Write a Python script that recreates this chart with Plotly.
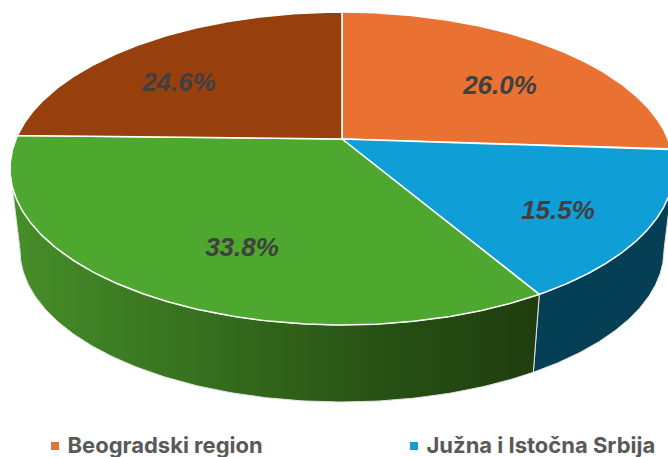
import numpy as np
import plotly.graph_objects as go

# --- data ---
categories = ["Beogradski region", "Južna i Istočna Srbija", "Vojvodina", "Šumadija i Zapadna Srbija"]
shares = [26.0, 15.5, 33.8, 24.6]
top_colors = ["#E97132", "#0F9ED5", "#4EA72E", "#983F0E"]
legend_labels = ["Beogradski region", "Južna i Istočna Srbija"]

# --- projection of the tilted disc onto the page (pixels) ---
W, H = 668, 457
CX, CY = 342.0, 139.0
RX, RY, PERSP = 326.0, 150.9, 0.1885
DEPTH, SHRINK = 82.6, 0.97


def rim(theta):
    u, v = np.sin(theta), np.cos(theta)
    d = 1 + PERSP * v
    return CX + RX * u / d, CY - RY * v / d


def lower(x, y):
    return CX + SHRINK * (x - CX), CY + DEPTH + SHRINK * (y - CY)


cum = np.concatenate([[0], np.cumsum(shares)]) / sum(shares) * 2 * np.pi
tangent = 2 * np.pi - np.arccos(-PERSP)   # left silhouette of the disc
tangent_r = np.arccos(-PERSP)             # right silhouette of the disc

fig = go.Figure()

# side walls, only where the front of the cylinder shows
wall_styles = {
    1: dict(fillcolor="#053F55"),
    2: dict(fillgradient=dict(type="horizontal",
                              colorscale=[[0, "#468F29"], [0.35, "#37701F"], [0.75, "#264D13"], [1, "#213D0E"]])),
}
for i, style in wall_styles.items():
    a = max(cum[i], tangent_r)
    b = min(cum[i + 1], tangent)
    t = np.linspace(a, b, 160)
    x, y = rim(t)
    xb, yb = lower(x, y)
    fig.add_trace(go.Scatter(
        x=np.concatenate([x, xb[::-1], x[:1]]), y=np.concatenate([y, yb[::-1], y[:1]]),
        mode="lines", fill="toself", line=dict(color="#E4E4E4", width=1),
        hoverinfo="skip", showlegend=False, **style))

# top face of each slice
for i, (cat, share, col) in enumerate(zip(categories, shares, top_colors)):
    t = np.linspace(cum[i], cum[i + 1], 200)
    x, y = rim(t)
    fig.add_trace(go.Scatter(
        x=np.concatenate([[CX], x, [CX]]), y=np.concatenate([[CY], y, [CY]]),
        mode="lines", fill="toself", fillcolor=col, line=dict(color="white", width=1.5),
        name=cat, text=f"{cat}: {share:.1f}%", hoverinfo="text", showlegend=False))

# value labels
label_xy = [(500, 87), (558, 212), (242, 249), (179, 84)]
fig.add_trace(go.Scatter(
    x=[p[0] for p in label_xy], y=[p[1] for p in label_xy],
    text=[f"{s:.1f}%" for s in shares], mode="text", textposition="middle center",
    textfont=dict(family="Liberation Sans", size=26, color="#404040", weight="bold", style="italic"),
    hoverinfo="skip", showlegend=False))

# legend entries still visible in the crop
legend_xy = [(55, 446), (414, 446)]
for label, col, (lx, ly) in zip(legend_labels, top_colors, legend_xy):
    fig.add_trace(go.Scatter(
        x=[lx], y=[ly], mode="markers", marker=dict(symbol="square", size=8, color=col),
        hoverinfo="skip", showlegend=False))
    fig.add_trace(go.Scatter(
        x=[lx + 12.5], y=[ly + 1], mode="text", text=[label], textposition="middle right",
        textfont=dict(family="Inter", size=22, color="#595959", weight="bold"),
        hoverinfo="skip", showlegend=False, cliponaxis=False))

fig.update_layout(
    width=W, height=H, margin=dict(l=0, r=0, t=0, b=0),
    paper_bgcolor="white", plot_bgcolor="white", showlegend=False,
    xaxis=dict(range=[0, W], visible=False, fixedrange=True),
    yaxis=dict(range=[H, 0], visible=False, fixedrange=True),
)
fig.write_html("out.html", config=dict(displayModeBar=False),
               post_script="document.body.style.margin='0';document.documentElement.style.overflow='hidden';")
